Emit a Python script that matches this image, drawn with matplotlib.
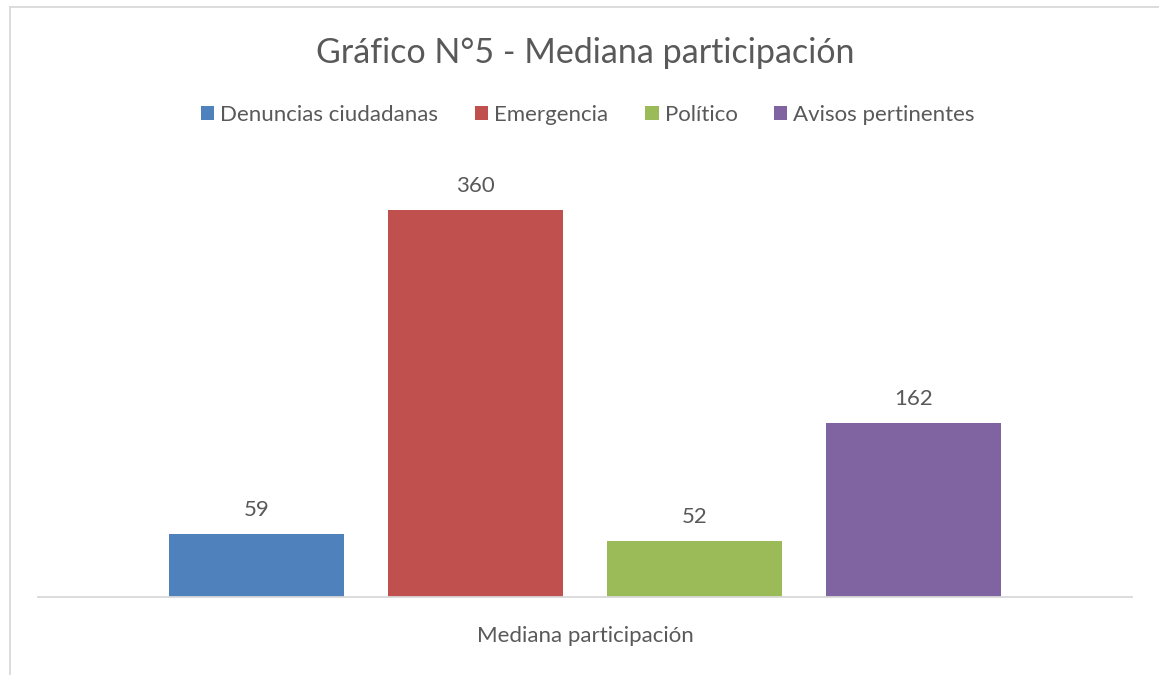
import matplotlib
matplotlib.use("Agg")
import matplotlib.pyplot as plt
from matplotlib.lines import Line2D
from matplotlib.patches import Patch

# data
series = ["Denuncias ciudadanas", "Emergencia", "Político", "Avisos pertinentes"]
values = [59, 360, 52, 162]
colors = ["#4F81BD", "#C0504D", "#9BBB59", "#8064A2"]
category = "Mediana participación"
title = "Gráfico N°5 - Mediana participación"

plt.rcParams['font.family'] = ['Lato', 'DejaVu Sans']
txt = "#595959"

W, H = 1159, 675
fig = plt.figure(figsize=(W / 100, H / 100), dpi=100)
fig.patch.set_facecolor("white")

# plot area in pixels: x 38..1132, baseline y 597
left, right, bottom, top = 38, 1132, 597, 167
ax = fig.add_axes([left / W, (H - bottom) / H, (right - left) / W, (bottom - top) / H])

step = 219 / (right - left)
width = 175.5 / (right - left)
for i, (v, c) in enumerate(zip(values, colors)):
    x = (i - 1.5) * step
    ax.bar(x, v, width=width, color=c, zorder=2)
    ax.text(x, v + 13, str(v), ha="center", va="bottom", fontsize=16, color=txt)

ax.set_xlim(-0.5, 0.5)
ax.set_ylim(0, 400)
ax.set_yticks([])
ax.set_xticks([])
for s in ["left", "right", "top"]:
    ax.spines[s].set_visible(False)
ax.spines["bottom"].set_color("#D9D9D9")
ax.spines["bottom"].set_linewidth(1.3)

fig.text(585 / W, 1 - 636 / H, category, ha="center", va="center", fontsize=16, color=txt)
fig.text(585 / W, 1 - 53 / H, title, ha="center", va="center", fontsize=24.5, color=txt)

handles = [Patch(facecolor=c, edgecolor="none") for c in colors]
fig.legend(handles, series, loc="center", bbox_to_anchor=(588 / W, 1 - 115 / H), ncol=4,
           frameon=False, fontsize=16, labelcolor=txt, handlelength=0.6, handleheight=0.6,
           handletextpad=0.27, columnspacing=1.65)

# chart border (left and top edges visible)
fig.add_artist(Line2D([9.5 / W, 9.5 / W], [0, 1 - 7 / H], color="#D9D9D9", lw=1.3))
fig.add_artist(Line2D([9.5 / W, 1], [1 - 7 / H, 1 - 7 / H], color="#D9D9D9", lw=1.3))

fig.savefig("out.png", dpi=100)
